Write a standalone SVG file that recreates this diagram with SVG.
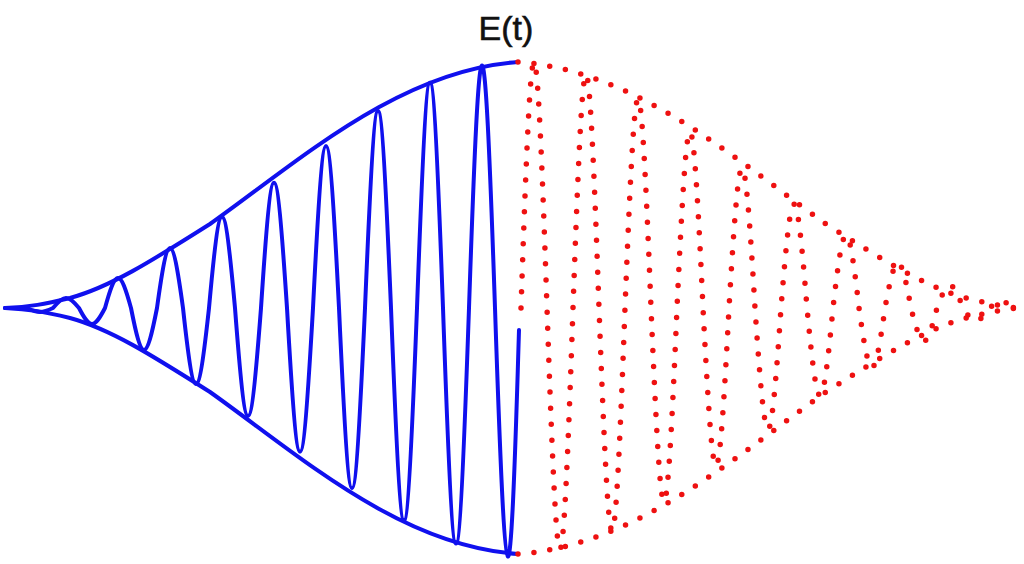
<svg xmlns="http://www.w3.org/2000/svg" width="1024" height="564" viewBox="0 0 1024 564">
<style>
.b{fill:none;stroke:#1010ee;stroke-width:4;stroke-linejoin:round;stroke-linecap:round}
.r{fill:none;stroke:#ee1111;stroke-width:5.5;stroke-linecap:round;stroke-dasharray:0 16}
</style>
<rect width="1024" height="564" fill="#fff"/>
<text x="506" y="40" font-family="Liberation Sans, Arial, sans-serif" font-size="34" text-anchor="middle" fill="#111" stroke="#111" stroke-width="0.6">E(t)</text>
<g id="connectors">
<path class="b" d="M5,308 L27,308 C38,313.3 42,313.3 53,308 C64,294.7 68,294.7 79,308 C90,329.3 94,329.3 105,308 C116,268 120,268 131,308 C142,364 146,364 157,308 C168,228 172,228 183,308 C194,409.2 198,409.2 209,308 C220,186.5 224,186.5 235,308 C246,451.9 250,451.9 261,308 C272,140.9 276,140.9 287,308 C298,499.5 302,499.5 313,308 C324,91.9 328,91.9 339,308 C350,548.3 354,548.3 365,308 C376,45.3 380,45.3 391,308 C402,591.1 406,591.1 417,308 C428,7.6 432,7.6 443,308 C454,622 458,622 469,308 C480,-15.2 484,-15.2 495,308 C506,635.6 510,635.6 519,330"/>
<path class="b" d="M5,308 C30,307 45,304 70,298 C110,287 150,262 210,224 C300,160 400,70 518,62"/>
<path class="b" d="M5,308 C30,309 45,312 70,318 C110,329 150,354 210,392 C300,456 400,546 518,554"/>
<path class="r" d="M521,308 C532,-19.1 536,-19.1 547,308 C558,629.5 562,629.5 573,308 C584,-3.2 588,-3.2 599,308 C610,604.8 614,604.8 625,308 C636,29.5 640,29.5 651,308 C662,565.5 666,565.5 677,308 C688,73.2 692,73.2 703,308 C714,518.3 718,518.3 729,308 C740,121.9 744,121.9 755,308 C766,469.5 770,469.5 781,308 C792,169.7 796,169.7 807,308 C818,424.5 822,424.5 833,308 C844,211.2 848,211.2 859,308 C870,387.3 874,387.3 885,308 C896,248 900,248 911,308 C922,352 926,352 937,308 C948,278 952,278 963,308 C974,325 978,325 989,308 C1000,300 1004,300 1015,308"/>
<path class="r" d="M518,62 C636,70 736,160 826,224 C886,262 926,287 966,298 C991,304 1006,307 1018,308"/>
<path class="r" d="M518,554 C636,546 736,456 826,392 C886,354 926,329 966,318 C991,312 1006,309 1018,308"/>
</g>
</svg>
